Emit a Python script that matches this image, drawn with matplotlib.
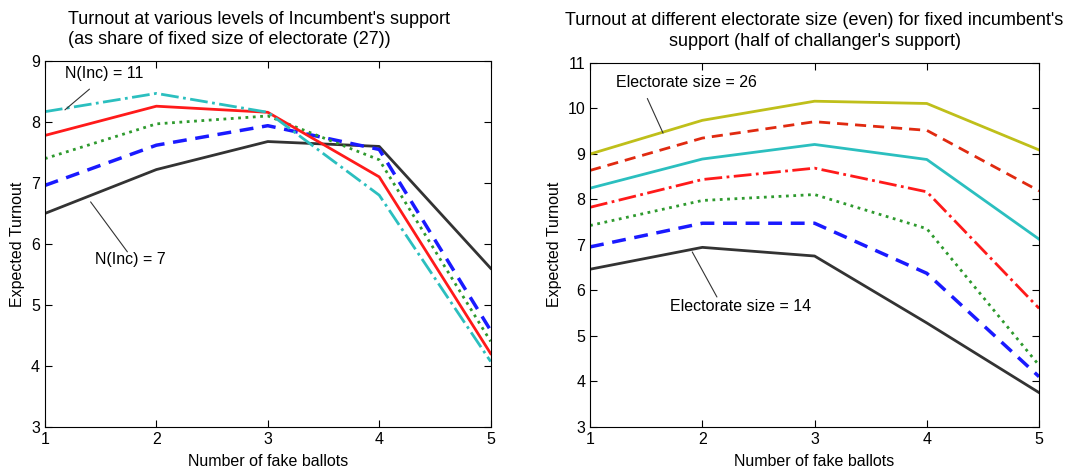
import matplotlib
matplotlib.use("Agg")
import matplotlib.pyplot as plt

plt.rcParams['font.family'] = ['Liberation Sans', 'DejaVu Sans']

ballots = [1, 2, 3, 4, 5]

# left panel: various levels of incumbent's support (electorate 27)
inc7 = [6.50, 7.22, 7.68, 7.60, 5.60]
inc8 = [6.96, 7.62, 7.94, 7.55, 4.58]
inc9 = [7.40, 7.97, 8.10, 7.38, 4.40]
inc10 = [7.78, 8.26, 8.16, 7.10, 4.20]
inc11 = [8.17, 8.47, 8.16, 6.80, 4.07]

# right panel: different electorate size (even)
el14 = [6.46, 6.94, 6.75, 5.28, 3.75]
el16 = [6.95, 7.47, 7.47, 6.37, 4.10]
el18 = [7.42, 7.97, 8.10, 7.35, 4.35]
el20 = [7.82, 8.43, 8.68, 8.16, 5.60]
el22 = [8.24, 8.88, 9.20, 8.87, 7.12]
el24 = [8.63, 9.34, 9.70, 9.51, 8.18]
el26 = [8.99, 9.73, 10.15, 10.10, 9.08]

BLACK = '#333333'
BLUE = '#1a1aff'
GREEN = '#2e9a2e'
RED = '#ff1a1a'
CYAN = '#2bbfbf'
OLIVE = '#bfbf1a'

fig = plt.figure(figsize=(10.69, 4.70), dpi=100)
ax1 = fig.add_axes([0.042, 0.092, 0.417, 0.778])
ax2 = fig.add_axes([0.552, 0.092, 0.420, 0.775])


def label_line(ax, text, pos, start, end):
    #text plus a thin pointer line, MATLAB style
    ax.text(pos[0], pos[1], text, fontsize=11.5, va='center', ha='left')
    ax.annotate('', xy=end, xytext=start,
                arrowprops=dict(arrowstyle='-', color=BLACK, lw=0.8, shrinkA=0, shrinkB=0))


#LEFT PANEL
ax1.plot(ballots, inc7, '-', color=BLACK, lw=2)
ax1.plot(ballots, inc8, '--', color=BLUE, lw=2.5, dashes=(4, 2.5))
ax1.plot(ballots, inc9, ':', color=GREEN, lw=2)
ax1.plot(ballots, inc10, '-', color=RED, lw=2)
ax1.plot(ballots, inc11, '-.', color=CYAN, lw=2)
ax1.set_ylim(3, 9)
ax1.set_yticks([3, 4, 5, 6, 7, 8, 9])
ax1.set_title("Turnout at various levels of Incumbent's support\n(as share of fixed size of electorate (27))",
              fontsize=13, multialignment='left', linespacing=1.3, pad=12, x=0.48)
label_line(ax1, 'N(Inc) = 11', (1.18, 8.80), (1.40, 8.54), (1.18, 8.20))
label_line(ax1, 'N(Inc) = 7', (1.45, 5.74), (1.41, 6.69), (1.74, 5.87))

#RIGHT PANEL
ax2.plot(ballots, el14, '-', color=BLACK, lw=2)
ax2.plot(ballots, el16, '--', color=BLUE, lw=2.5, dashes=(4, 2.5))
ax2.plot(ballots, el18, ':', color=GREEN, lw=2)
ax2.plot(ballots, el20, '-.', color=RED, lw=2)
ax2.plot(ballots, el22, '-', color=CYAN, lw=2)
ax2.plot(ballots, el24, '--', color='#e02a10', lw=2, dashes=(4, 2.5))
ax2.plot(ballots, el26, '-', color=OLIVE, lw=2)
ax2.set_ylim(3, 11)
ax2.set_yticks(range(3, 12))
ax2.set_title("Turnout at different electorate size (even) for fixed incumbent's\nsupport (half of challanger's support)",
              fontsize=13, linespacing=1.3, pad=12)
label_line(ax2, 'Electorate size = 26', (1.23, 10.57), (1.51, 10.21), (1.65, 9.45))
label_line(ax2, 'Electorate size = 14', (1.71, 5.65), (1.91, 6.84), (2.13, 5.85))

for ax in (ax1, ax2):
    ax.set_xlim(1, 5)
    ax.set_xticks(ballots)
    ax.set_xlabel('Number of fake ballots', fontsize=11.5, labelpad=5)
    ax.set_ylabel('Expected Turnout', fontsize=11.5, labelpad=4)
    ax.tick_params(direction='in', top=True, right=True, labelsize=11.5, length=5)

fig.savefig('out.png', dpi=100)
